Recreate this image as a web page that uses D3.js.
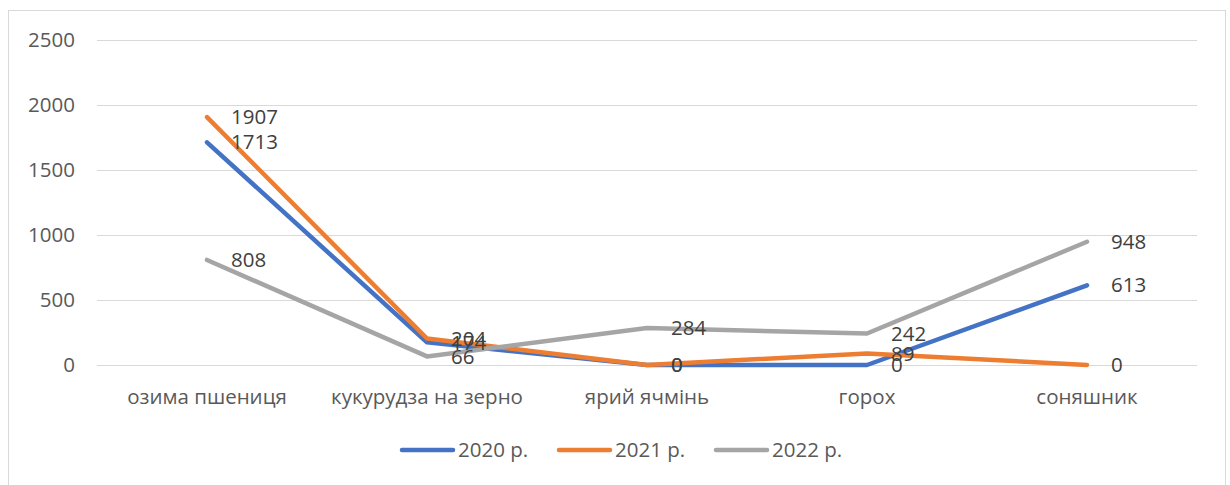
<!DOCTYPE html>
<html>
<head>
<meta charset="utf-8">
<script src="https://cdn.jsdelivr.net/npm/d3@7"></script>
<style>
  body { margin: 0; background: #fff; }
  svg { font-family: "Open Sans", "Noto Sans", sans-serif; }
</style>
</head>
<body>
<svg id="chart" width="1230" height="485"></svg>
<script>
const categories = ["озима пшениця", "кукурудза на зерно", "ярий ячмінь", "горох", "соняшник"];
const seriesNames = ["2020 р.", "2021 р.", "2022 р."];
const values2020 = [1713, 174, 0, 0, 613];
const values2021 = [1907, 204, 0, 89, 0];
const values2022 = [808, 66, 284, 242, 948];
const yTicks = [0, 500, 1000, 1500, 2000, 2500];
const colors = ["#4472C4", "#ED7D31", "#A5A5A5"];

const fontSize = 20.5;
const margin = {top: 40, right: 33, bottom: 120, left: 97};
const width = 1230, height = 485;

const series = [values2020, values2021, values2022].map((vals, i) => ({
  name: seriesNames[i],
  color: colors[i],
  points: vals.map((v, j) => ({cat: categories[j], value: v}))
}));

const svg = d3.select("#chart");

svg.append("rect")
  .attr("x", 8.5).attr("y", 10.5)
  .attr("width", 1217).attr("height", 490)
  .attr("fill", "#fff").attr("stroke", "#d9d9d9");

const x = d3.scaleBand()
  .domain(categories)
  .range([margin.left, width - margin.right]);

const y = d3.scaleLinear()
  .domain([0, 2500])
  .range([365, margin.top]);

// gridlines
svg.append("g")
  .selectAll("line")
  .data(yTicks).enter()
  .append("line")
  .attr("x1", margin.left).attr("x2", width - margin.right)
  .attr("y1", d => Math.round(y(d)) + 0.5).attr("y2", d => Math.round(y(d)) + 0.5)
  .attr("stroke", "#d9d9d9").attr("stroke-width", 1);

// y labels
svg.append("g")
  .selectAll("text")
  .data(yTicks).enter()
  .append("text")
  .attr("x", 75).attr("y", d => y(d))
  .attr("dy", "0.35em")
  .attr("text-anchor", "end")
  .attr("font-size", fontSize)
  .attr("fill", "#595959")
  .text(d => d);

// category labels
svg.append("g")
  .selectAll("text")
  .data(categories).enter()
  .append("text")
  .attr("x", d => x(d) + x.bandwidth() / 2)
  .attr("y", 397)
  .attr("dy", "0.35em")
  .attr("text-anchor", "middle")
  .attr("font-size", fontSize)
  .attr("fill", "#595959")
  .text(d => d);

const line = d3.line()
  .x(d => x(d.cat) + x.bandwidth() / 2)
  .y(d => y(d.value));

svg.append("g")
  .selectAll("path")
  .data(series).enter()
  .append("path")
  .attr("d", s => line(s.points))
  .attr("fill", "none")
  .attr("stroke", s => s.color)
  .attr("stroke-width", 4.5)
  .attr("stroke-linejoin", "round")
  .attr("stroke-linecap", "round");

// data labels
series.forEach(s => {
  svg.append("g")
    .selectAll("text")
    .data(s.points).enter()
    .append("text")
    .attr("x", d => x(d.cat) + x.bandwidth() / 2 + 24)
    .attr("y", d => y(d.value))
    .attr("dy", "0.35em")
    .attr("font-size", fontSize)
    .attr("fill", "#404040")
    .text(d => d.value);
});

// legend
const legendX = [400, 557, 714];
const legend = svg.append("g")
  .selectAll("g")
  .data(series).enter()
  .append("g")
  .attr("transform", (d, i) => `translate(${legendX[i]}, 450)`);

legend.append("line")
  .attr("x1", 2).attr("x2", 53)
  .attr("stroke", d => d.color)
  .attr("stroke-width", 4.5)
  .attr("stroke-linecap", "round");

legend.append("text")
  .attr("x", 58)
  .attr("dy", "0.35em")
  .attr("font-size", fontSize)
  .attr("fill", "#595959")
  .text(d => d.name);
</script>
</body>
</html>
